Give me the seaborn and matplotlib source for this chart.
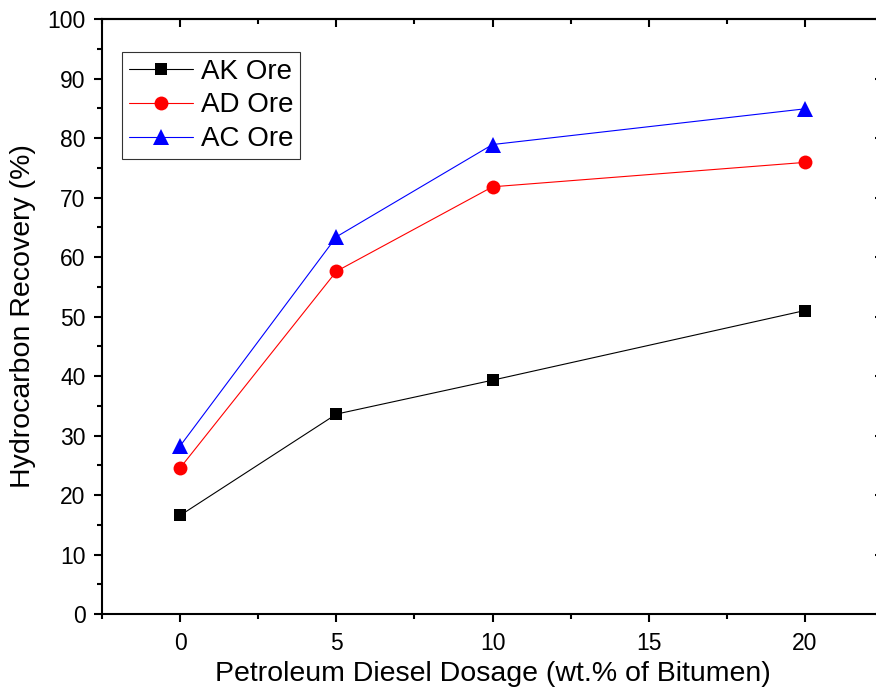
import pandas as pd
import matplotlib.pyplot as plt
import seaborn as sns
from matplotlib.ticker import MultipleLocator

# Data
dosage = [0, 5, 10, 20]
ak_ore = [16.6, 33.6, 39.3, 51.0]
ad_ore = [24.6, 57.6, 71.8, 75.9]
ac_ore = [28.3, 63.4, 78.9, 84.9]
series = ["AK Ore", "AD Ore", "AC Ore"]

df = pd.DataFrame({
    "Dosage": dosage * 3,
    "Recovery": ak_ore + ad_ore + ac_ore,
    "Ore": [s for s in series for _ in dosage],
})

sns.set_style("ticks")
plt.rcParams['font.family'] = ['Liberation Sans', 'DejaVu Sans']
plt.rcParams['text.color'] = 'black'
plt.rcParams['axes.labelcolor'] = 'black'
plt.rcParams['xtick.color'] = 'black'
plt.rcParams['ytick.color'] = 'black'

fig = plt.figure(figsize=(8.76, 6.91), dpi=100)
ax = fig.add_axes([0.1168, 0.1114, 0.8909, 0.8611])

palette = {"AK Ore": "black", "AD Ore": "#ff0000", "AC Ore": "#0000ff"}
markers = {"AK Ore": "s", "AD Ore": "o", "AC Ore": "^"}
sizes = {"AK Ore": 8.5, "AD Ore": 10, "AC Ore": 11}

for s in series:
    sub = df[df["Ore"] == s]
    sns.lineplot(data=sub, x="Dosage", y="Recovery", color=palette[s],
                 marker=markers[s], markersize=sizes[s], markeredgewidth=0,
                 linewidth=0.8, label=s, ax=ax, errorbar=None)

ax.set_xlim(-2.5, 22.5)
ax.set_ylim(0, 100)
ax.xaxis.set_major_locator(MultipleLocator(5))
ax.xaxis.set_minor_locator(MultipleLocator(2.5))
ax.yaxis.set_major_locator(MultipleLocator(10))
ax.yaxis.set_minor_locator(MultipleLocator(5))

ax.set_xlabel("Petroleum Diesel Dosage (wt.% of Bitumen)", fontsize=20.5,
              labelpad=4, color="black")
ax.set_ylabel("Hydrocarbon Recovery (%)", fontsize=20.5, labelpad=8, color="black")

for sp in ax.spines.values():
    sp.set_linewidth(1.5)
    sp.set_color("black")

ax.tick_params(axis="both", which="major", labelsize=16.5, length=6, width=1.5,
               direction="out", colors="black")
ax.tick_params(axis="both", which="minor", length=3.5, width=1.5, direction="out")
ax.tick_params(axis="x", which="major", pad=7)
ax.tick_params(axis="y", which="major", pad=6)
# mirrored ticks pointing inward on top/right
ax2 = ax.secondary_xaxis("top")
ax2.xaxis.set_major_locator(MultipleLocator(5))
ax2.xaxis.set_minor_locator(MultipleLocator(2.5))
ax2.tick_params(which="major", direction="in", length=6, width=1.5, labeltop=False)
ax2.tick_params(which="minor", direction="in", length=3.5, width=1.5)
ax3 = ax.secondary_yaxis("right")
ax3.yaxis.set_major_locator(MultipleLocator(10))
ax3.yaxis.set_minor_locator(MultipleLocator(5))
ax3.tick_params(which="major", direction="in", length=6, width=1.5, labelright=False)
ax3.tick_params(which="minor", direction="in", length=3.5, width=1.5)
ax2.spines["top"].set_linewidth(1.5)
ax3.spines["right"].set_linewidth(1.5)

leg = ax.legend(loc="upper left", bbox_to_anchor=(0.025, 0.945), fontsize=20,
                frameon=True, fancybox=False, edgecolor="black",
                handlelength=2.3, handletextpad=0.3, borderpad=0.25,
                labelspacing=0.28, borderaxespad=0)
leg.get_frame().set_linewidth(0.8)
for t in leg.get_texts():
    t.set_color("black")

fig.savefig("out.png", dpi=100)
